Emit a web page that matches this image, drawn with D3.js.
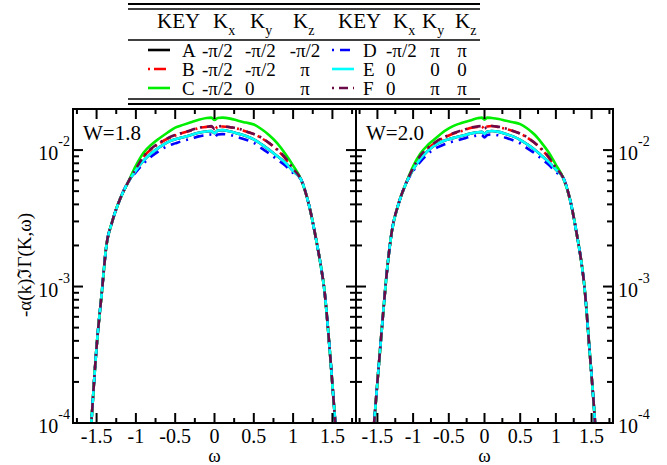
<!DOCTYPE html>
<html>
<head>
<meta charset="utf-8">
<script src="https://cdn.jsdelivr.net/npm/d3@7"></script>
<style>
  body { margin: 0; background: #fff; }
  svg { display: block; }
  text { font-family: "Liberation Serif", "DejaVu Serif", serif; }
</style>
</head>
<body>
<div id="chart"></div>
<script>
// omega grid shared by all curves
var omega = [-1.58, -1.5, -1.43, -1.38, -1.3, -1.2, -1.1,
  -1.0, -0.9, -0.8, -0.7, -0.6, -0.5, -0.4, -0.3, -0.2, -0.1, -0.04, 0, 0.04, 0.1, 0.2, 0.3, 0.4, 0.5, 0.6, 0.7, 0.8, 0.9, 1.0,
  1.1, 1.2, 1.3, 1.35, 1.4, 1.47, 1.55, 1.58];

// W = 1.8
var w18A = [7.5e-5, 3.6e-4, 9.5e-4, 1.9e-3, 3.0e-3, 4.4e-3, 5.8e-3,
  7.1e-3, 8.4e-3, 9.5e-3, 0.0105, 0.0114, 0.0120, 0.0124, 0.0129, 0.0134, 0.0137, 0.0138, 0.0133, 0.0139, 0.0140, 0.0137, 0.0132, 0.0127, 0.0120, 0.0110, 0.0100, 0.0090, 0.0081, 7.0e-3,
  6.1e-3, 4.0e-3, 2.1e-3, 1.45e-3, 9.2e-4, 3.2e-4, 8e-5, 5e-5];
var w18B = [7.5e-5, 3.6e-4, 9.5e-4, 1.9e-3, 3.0e-3, 4.4e-3, 5.8e-3,
  7.3e-3, 9.0e-3, 0.0102, 0.0112, 0.0121, 0.0128, 0.0134, 0.0139, 0.0145, 0.0148, 0.0149, 0.0142, 0.0148, 0.0149, 0.0147, 0.0143, 0.0137, 0.0131, 0.0122, 0.0112, 0.0100, 0.0087, 7.2e-3,
  6.1e-3, 4.0e-3, 2.1e-3, 1.45e-3, 9.2e-4, 3.2e-4, 8e-5, 5e-5];
var w18C = [7.5e-5, 3.6e-4, 9.5e-4, 1.9e-3, 3.0e-3, 4.4e-3, 5.8e-3,
  7.7e-3, 9.6e-3, 0.0110, 0.0122, 0.0134, 0.0146, 0.0153, 0.0160, 0.0167, 0.0172, 0.0173, 0.0166, 0.0172, 0.0173, 0.0170, 0.0164, 0.0159, 0.0154, 0.0142, 0.0128, 0.0112, 0.0094, 7.7e-3,
  6.1e-3, 4.0e-3, 2.1e-3, 1.45e-3, 9.2e-4, 3.2e-4, 8e-5, 5e-5];
var w18D = [7.5e-5, 3.6e-4, 9.5e-4, 1.9e-3, 3.0e-3, 4.4e-3, 5.8e-3,
  6.9e-3, 8.0e-3, 9.0e-3, 9.9e-3, 0.0107, 0.0112, 0.0117, 0.0121, 0.0126, 0.0129, 0.0130, 0.0124, 0.0130, 0.0131, 0.0129, 0.0124, 0.0119, 0.0113, 0.0103, 0.0094, 0.0085, 0.0077, 6.8e-3,
  6.1e-3, 4.0e-3, 2.1e-3, 1.45e-3, 9.2e-4, 3.2e-4, 8e-5, 5e-5];
var w18E = [7.5e-5, 3.6e-4, 9.5e-4, 1.9e-3, 3.0e-3, 4.4e-3, 5.8e-3,
  7.1e-3, 8.4e-3, 9.5e-3, 0.0105, 0.0114, 0.0120, 0.0124, 0.0129, 0.0134, 0.0137, 0.0138, 0.0133, 0.0139, 0.0140, 0.0137, 0.0132, 0.0127, 0.0120, 0.0110, 0.0100, 0.0090, 0.0081, 7.0e-3,
  6.1e-3, 4.0e-3, 2.1e-3, 1.45e-3, 9.2e-4, 3.2e-4, 8e-5, 5e-5];
var w18F = [7.5e-5, 3.6e-4, 9.5e-4, 1.9e-3, 3.0e-3, 4.4e-3, 5.8e-3,
  7.3e-3, 9.0e-3, 0.0103, 0.0113, 0.0122, 0.0129, 0.0134, 0.0140, 0.0146, 0.0148, 0.0150, 0.0143, 0.0148, 0.0150, 0.0147, 0.0144, 0.0137, 0.0131, 0.0123, 0.0112, 0.0101, 0.0088, 7.3e-3,
  6.1e-3, 4.0e-3, 2.1e-3, 1.45e-3, 9.2e-4, 3.2e-4, 8e-5, 5e-5];

// W = 2.0
var w20A = [6e-5, 2.0e-4, 5.5e-4, 1.1e-3, 2.5e-3, 4.1e-3, 5.7e-3,
  7.2e-3, 8.6e-3, 9.8e-3, 0.0108, 0.0115, 0.0120, 0.0124, 0.0128, 0.0132, 0.0135, 0.0136, 0.0132, 0.0137, 0.0138, 0.0136, 0.0131, 0.0126, 0.0119, 0.0110, 0.0101, 0.0091, 0.0082, 7.2e-3,
  6.3e-3, 4.3e-3, 2.3e-3, 1.6e-3, 1.0e-3, 3.5e-4, 9.8e-5, 5.5e-5];
var w20B = [6e-5, 2.0e-4, 5.5e-4, 1.1e-3, 2.5e-3, 4.1e-3, 5.7e-3,
  7.4e-3, 9.0e-3, 0.0102, 0.0112, 0.0121, 0.0128, 0.0134, 0.0139, 0.0145, 0.0148, 0.0149, 0.0143, 0.0149, 0.0150, 0.0147, 0.0143, 0.0138, 0.0132, 0.0123, 0.0113, 0.0101, 0.0088, 7.4e-3,
  6.3e-3, 4.3e-3, 2.3e-3, 1.6e-3, 1.0e-3, 3.5e-4, 9.8e-5, 5.5e-5];
var w20C = [6e-5, 2.0e-4, 5.5e-4, 1.1e-3, 2.5e-3, 4.1e-3, 5.7e-3,
  7.6e-3, 9.4e-3, 0.0108, 0.0120, 0.0133, 0.0144, 0.0153, 0.0159, 0.0165, 0.0171, 0.0173, 0.0167, 0.0173, 0.0172, 0.0169, 0.0164, 0.0160, 0.0155, 0.0144, 0.0130, 0.0113, 0.0096, 7.8e-3,
  6.3e-3, 4.3e-3, 2.3e-3, 1.6e-3, 1.0e-3, 3.5e-4, 9.8e-5, 5.5e-5];
var w20D = [6e-5, 2.0e-4, 5.5e-4, 1.1e-3, 2.5e-3, 4.1e-3, 5.7e-3,
  7.0e-3, 8.2e-3, 9.3e-3, 0.0102, 0.0108, 0.0113, 0.0117, 0.0121, 0.0125, 0.0128, 0.0129, 0.0124, 0.0129, 0.0130, 0.0128, 0.0123, 0.0118, 0.0112, 0.0103, 0.0095, 0.0086, 0.0078, 6.9e-3,
  6.3e-3, 4.3e-3, 2.3e-3, 1.6e-3, 1.0e-3, 3.5e-4, 9.8e-5, 5.5e-5];
var w20E = w20A.slice();
var w20F = [6e-5, 2.0e-4, 5.5e-4, 1.1e-3, 2.5e-3, 4.1e-3, 5.7e-3,
  7.4e-3, 9.1e-3, 0.0103, 0.0113, 0.0122, 0.0129, 0.0135, 0.0140, 0.0146, 0.0149, 0.0150, 0.0144, 0.0149, 0.0150, 0.0148, 0.0144, 0.0138, 0.0132, 0.0124, 0.0113, 0.0102, 0.0089, 7.4e-3,
  6.3e-3, 4.3e-3, 2.3e-3, 1.6e-3, 1.0e-3, 3.5e-4, 9.8e-5, 5.5e-5];

// key table
var keys = ['A', 'B', 'C', 'D', 'E', 'F'];
var kx = ['-π/2', '-π/2', '-π/2', '-π/2', '0', '0'];
var ky = ['-π/2', '-π/2', '0', 'π', '0', 'π'];
var kz = ['-π/2', 'π', 'π', 'π', '0', 'π'];

var colors = ['#000000', '#ff0000', '#00ee00', '#0000ff', '#00ffff', '#6a0a48'];
var dashes = [null, '2,4,12,4', null, '2,6,10,6', null, '2,5,9,5'];

var xTicks = [-1.5, -1, -0.5, 0, 0.5, 1, 1.5];
var xMinor = [-1.75, -1.25, -0.75, -0.25, 0.25, 0.75, 1.25, 1.75];

var W = 667, H = 465;
var top0 = 109, bot0 = 423;
var serif = '"Liberation Serif", "DejaVu Serif", serif';

var svg = d3.select('#chart').append('svg')
  .attr('width', W).attr('height', H)
  .attr('font-family', serif);

svg.append('rect').attr('width', W).attr('height', H).attr('fill', '#fff');

var y = d3.scaleLog().domain([1e-4, 2e-2]).range([bot0, top0]);
var yTicks = y.ticks();

var panels = [
  { label: 'W=1.8', x0: 73, x1: 356, data: [w18A, w18B, w18C, w18D, w18E, w18F] },
  { label: 'W=2.0', x0: 356, x1: 613, data: [w20A, w20B, w20C, w20D, w20E, w20F] }
];

function isMajor(v) { return Math.abs(Math.log10(v) - Math.round(Math.log10(v))) < 1e-6; }

panels.forEach(function(p, pi) {
  var x = d3.scaleLinear().domain([-1.8, 1.8]).range([p.x0, p.x1]);
  var g = svg.append('g');

  g.append('clipPath').attr('id', 'clip' + pi)
    .append('rect')
    .attr('x', p.x0).attr('y', top0)
    .attr('width', p.x1 - p.x0).attr('height', bot0 - top0);

  var line = d3.line()
    .x(function(d) { return x(d[0]); })
    .y(function(d) { return y(d[1]); })
    .curve(d3.curveMonotoneX);

  var cg = g.append('g').attr('clip-path', 'url(#clip' + pi + ')');
  p.data.forEach(function(vals, i) {
    cg.append('path')
      .datum(omega.map(function(o, j) { return [o, vals[j]]; }))
      .attr('d', line)
      .attr('fill', 'none')
      .attr('stroke', colors[i])
      .attr('stroke-width', 2.6)
      .attr('stroke-dasharray', dashes[i]);
  });

  // frame
  g.append('rect')
    .attr('x', p.x0).attr('y', top0)
    .attr('width', p.x1 - p.x0).attr('height', bot0 - top0)
    .attr('fill', 'none').attr('stroke', '#000').attr('stroke-width', 2);

  // x ticks (top and bottom, inward)
  xTicks.concat(xMinor).forEach(function(t) {
    var len = xTicks.indexOf(t) >= 0 ? 10 : 5;
    g.append('line').attr('x1', x(t)).attr('x2', x(t))
      .attr('y1', bot0).attr('y2', bot0 - len)
      .attr('stroke', '#000').attr('stroke-width', 2);
    g.append('line').attr('x1', x(t)).attr('x2', x(t))
      .attr('y1', top0).attr('y2', top0 + len)
      .attr('stroke', '#000').attr('stroke-width', 2);
  });

  g.selectAll('text.xt')
    .data(xTicks)
    .enter()
    .append('text')
    .attr('class', 'xt')
    .attr('x', function(d) { return x(d); })
    .attr('y', 443)
    .attr('text-anchor', 'middle')
    .attr('font-size', 20)
    .text(function(d) { return d; });

  g.append('text')
    .attr('x', x(0)).attr('y', 462)
    .attr('text-anchor', 'middle')
    .attr('font-size', 19)
    .text('ω');

  // y ticks on both sides, inward
  yTicks.forEach(function(v) {
    var len = isMajor(v) ? 10 : 6;
    g.append('line').attr('x1', p.x0).attr('x2', p.x0 + len)
      .attr('y1', y(v)).attr('y2', y(v))
      .attr('stroke', '#000').attr('stroke-width', 2);
    g.append('line').attr('x1', p.x1).attr('x2', p.x1 - len)
      .attr('y1', y(v)).attr('y2', y(v))
      .attr('stroke', '#000').attr('stroke-width', 2);
  });

  g.append('text')
    .attr('x', p.x0 + 10).attr('y', 140)
    .attr('font-size', 21)
    .text(p.label);
});

// y tick labels (left side of left panel, right side of right panel)
var decades = yTicks.filter(isMajor);
decades.forEach(function(v) {
  var e = Math.round(Math.log10(v));
  [{ xx: 70, anchor: 'end' }, { xx: 618, anchor: 'start' }].forEach(function(s) {
    var t = svg.append('text')
      .attr('x', s.xx).attr('y', y(v) + 10)
      .attr('text-anchor', s.anchor)
      .attr('font-size', 20);
    t.append('tspan').text('10');
    t.append('tspan').attr('dy', -14).attr('font-size', 14).text(String(e));
  });
});

// y axis title
svg.append('text')
  .attr('transform', 'translate(31,265) rotate(-90)')
  .attr('text-anchor', 'middle')
  .attr('font-size', 19)
  .text('-α(k)ℑΓ(K,ω)');

// key table
var tg = svg.append('g');
[4, 9, 40, 99, 104].forEach(function(yy, i) {
  tg.append('line').attr('x1', 128).attr('x2', 480)
    .attr('y1', yy).attr('y2', yy)
    .attr('stroke', '#000').attr('stroke-width', i === 0 || i === 4 ? 2 : 1.5);
});

var headX = [157, 213, 250, 293, 338, 393, 422, 455];
['KEY', 'K|x', 'K|y', 'K|z', 'KEY', 'K|x', 'K|y', 'K|z'].forEach(function(h, i) {
  var parts = h.split('|');
  var t = tg.append('text').attr('x', headX[i]).attr('y', 28).attr('font-size', 21);
  t.append('tspan').text(parts[0]);
  if (parts[1]) t.append('tspan').attr('dy', 7).attr('font-size', 14).text(parts[1]);
});

var rowY = [57, 76, 95];
keys.forEach(function(k, i) {
  var side = i < 3 ? 0 : 1;
  var ry = rowY[i % 3];
  var lx = side === 0 ? 148 : 332;
  tg.append('line')
    .attr('x1', lx).attr('x2', lx + 22)
    .attr('y1', ry - 7).attr('y2', ry - 7)
    .attr('stroke', colors[i]).attr('stroke-width', 2.6)
    .attr('stroke-dasharray', dashes[i]);
  var cols = side === 0
    ? [[182, 'start'], [202, 'start'], [245, 'start'], [305, 'middle']]
    : [[363, 'start'], [386, 'start'], [435, 'middle'], [462, 'middle']];
  [k, kx[i], ky[i], kz[i]].forEach(function(s, c) {
    tg.append('text')
      .attr('x', cols[c][0]).attr('y', ry)
      .attr('text-anchor', cols[c][1])
      .attr('font-size', 19)
      .text(s);
  });
});
</script>
</body>
</html>
